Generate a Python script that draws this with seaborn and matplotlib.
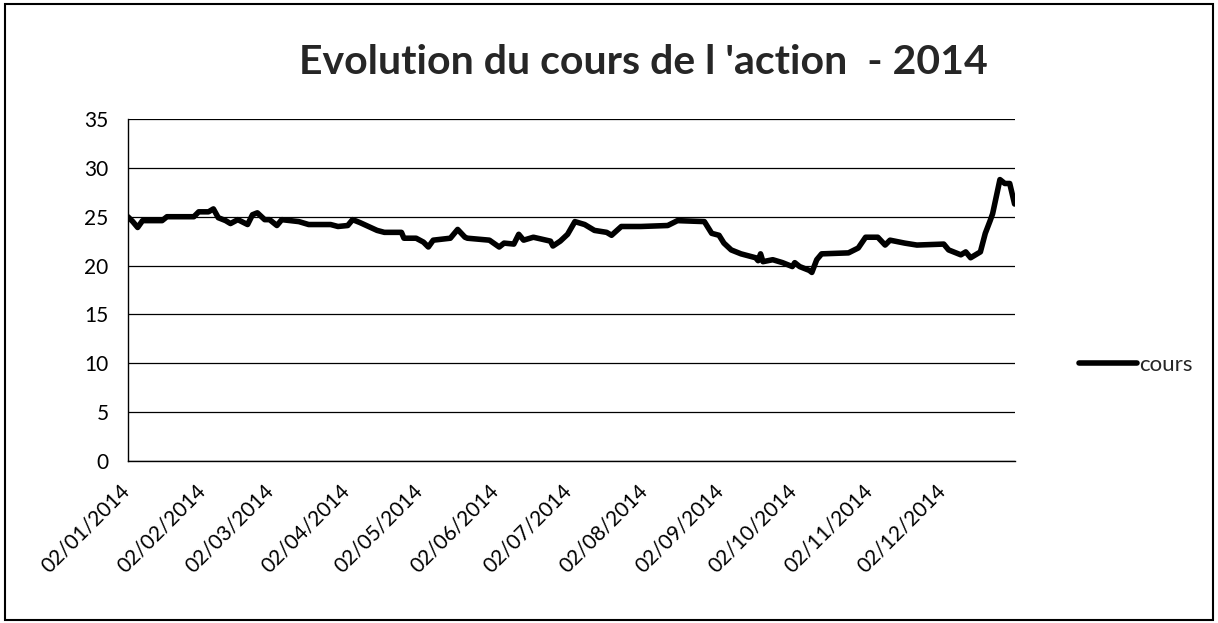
import pandas as pd
import matplotlib
matplotlib.use("Agg")
import matplotlib.pyplot as plt
import matplotlib.dates as mdates
import matplotlib.transforms as mtransforms
from matplotlib.patches import Rectangle
import seaborn as sns

# ─────────────────────────────────────────────
# Data (key points of the daily share price)
# ─────────────────────────────────────────────
dates = [
    "2014-01-02", "2014-01-04", "2014-01-06", "2014-01-08", "2014-01-16", "2014-01-18",
    "2014-01-29", "2014-01-31", "2014-02-04", "2014-02-06", "2014-02-08", "2014-02-11",
    "2014-02-13", "2014-02-16", "2014-02-20", "2014-02-22", "2014-02-24", "2014-02-27",
    "2014-03-01", "2014-03-04", "2014-03-06", "2014-03-13", "2014-03-17", "2014-03-26",
    "2014-03-29", "2014-04-02", "2014-04-04", "2014-04-07", "2014-04-14", "2014-04-17",
    "2014-04-24", "2014-04-25", "2014-04-30", "2014-05-03", "2014-05-05", "2014-05-07",
    "2014-05-14", "2014-05-17", "2014-05-20", "2014-05-21", "2014-05-30", "2014-06-03",
    "2014-06-05", "2014-06-09", "2014-06-11", "2014-06-13", "2014-06-17", "2014-06-24",
    "2014-06-25", "2014-06-28", "2014-07-01", "2014-07-04", "2014-07-08", "2014-07-12",
    "2014-07-17", "2014-07-19", "2014-07-23", "2014-07-31", "2014-08-11", "2014-08-15",
    "2014-08-26", "2014-08-29", "2014-09-01", "2014-09-03", "2014-09-06", "2014-09-10",
    "2014-09-16", "2014-09-17", "2014-09-18", "2014-09-19", "2014-09-23", "2014-09-27",
    "2014-10-01", "2014-10-02", "2014-10-04", "2014-10-08", "2014-10-09", "2014-10-11",
    "2014-10-13", "2014-10-24", "2014-10-28", "2014-10-31", "2014-11-05", "2014-11-08",
    "2014-11-10", "2014-11-16", "2014-11-21", "2014-12-02", "2014-12-04", "2014-12-09",
    "2014-12-11", "2014-12-13", "2014-12-17", "2014-12-19", "2014-12-21", "2014-12-22",
    "2014-12-25", "2014-12-27", "2014-12-29", "2014-12-31",
]
cours = [
    25.0, 24.5, 23.9, 24.6, 24.6, 25.0,
    25.0, 25.5, 25.5, 25.8, 24.9, 24.6,
    24.3, 24.7, 24.2, 25.2, 25.4, 24.7,
    24.7, 24.1, 24.7, 24.5, 24.2, 24.2,
    24.0, 24.1, 24.7, 24.4, 23.6, 23.4,
    23.4, 22.8, 22.8, 22.4, 21.9, 22.6,
    22.8, 23.7, 22.9, 22.8, 22.6, 21.9,
    22.3, 22.2, 23.2, 22.6, 22.9, 22.5,
    22.0, 22.5, 23.2, 24.5, 24.2, 23.6,
    23.4, 23.1, 24.0, 24.0, 24.1, 24.6,
    24.5, 23.3, 23.1, 22.3, 21.6, 21.2,
    20.8, 20.5, 21.2, 20.4, 20.6, 20.3,
    19.9, 20.3, 19.9, 19.5, 19.3, 20.6,
    21.2, 21.3, 21.8, 22.9, 22.9, 22.1,
    22.6, 22.3, 22.1, 22.2, 21.6, 21.1,
    21.4, 20.8, 21.4, 23.3, 24.6, 25.3,
    28.8, 28.4, 28.4, 26.3,
]
y_ticks = [0, 5, 10, 15, 20, 25, 30, 35]
title = "Evolution du cours de l 'action  - 2014"

df = pd.DataFrame({"date": pd.to_datetime(dates), "cours": cours})

# ─────────────────────────────────────────────
# Plot
# ─────────────────────────────────────────────
sns.set_style("white")
plt.rcParams["font.family"] = ["Lato", "DejaVu Sans"]

fig = plt.figure(figsize=(12.18, 6.23), dpi=100)
ax = fig.add_axes([0.105, 0.26, 0.728, 0.549])

sns.lineplot(data=df, x="date", y="cours", ax=ax, color="black", linewidth=4, label="cours")

ax.set_ylim(0, 35)
ax.set_yticks(y_ticks)
ax.set_xlim(pd.Timestamp("2014-01-02"), pd.Timestamp("2014-12-31"))
ax.xaxis.set_major_locator(mdates.MonthLocator(bymonthday=2))
ax.xaxis.set_major_formatter(mdates.DateFormatter("%d/%m/%Y"))
ax.set_xlabel("")
ax.set_ylabel("")

ax.grid(axis="y", color="black", linewidth=0.9)
ax.set_axisbelow(True)
for side in ["top", "right"]:
    ax.spines[side].set_visible(False)
ax.spines["left"].set_color("black")
ax.spines["bottom"].set_color("black")
ax.spines["left"].set_linewidth(1.0)
ax.spines["bottom"].set_linewidth(1.0)

ax.tick_params(axis="y", direction="out", length=6, width=1, colors="black", labelsize=15, pad=8)
ax.tick_params(axis="x", direction="out", length=6, width=1, colors="black", labelsize=15, pad=8)
shift = mtransforms.ScaledTranslation(-8 / 100, 0, fig.dpi_scale_trans)
for lbl in ax.get_xticklabels():
    lbl.set_rotation(45)
    lbl.set_ha("right")
    lbl.set_rotation_mode("anchor")
    lbl.set_transform(lbl.get_transform() + shift)

ax.legend(loc="center left", bbox_to_anchor=(1.05, 0.28), frameon=False,
          fontsize=16, handlelength=2.6, handletextpad=0.1)

fig.text(0.528, 0.9, title, ha="center", va="center", fontsize=29.5, fontweight="bold")

# chart area border
fig.patches.append(Rectangle((0.004, 0.005), 0.992, 0.988, transform=fig.transFigure,
                             fill=False, edgecolor="black", linewidth=1.5))

fig.savefig("out.png", dpi=100)
plt.close(fig)
